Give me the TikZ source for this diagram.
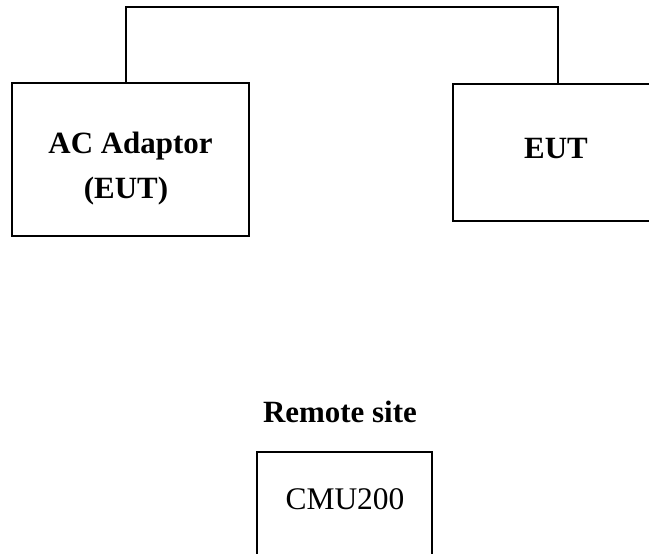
\documentclass[tikz,border=0pt]{standalone}
\usepackage{fontspec}
\setmainfont{Liberation Serif}
\begin{document}
\begin{tikzpicture}[x=0.75pt,y=-0.75pt,
  box/.style={draw=black,line width=1.1pt,rectangle,inner sep=0pt},
  lbl/.style={font=\fontsize{23.2pt}{27pt}\selectfont\bfseries,anchor=base,inner sep=0pt},
  plain/.style={font=\fontsize{23.6pt}{27pt}\selectfont,anchor=base,inner sep=0pt},
  wire/.style={draw=black,line width=1.1pt}]
\path[use as bounding box,clip] (0,0) rectangle (649,553);
\node[box,minimum width=237*0.75pt,minimum height=153*0.75pt] (ac) at (130.5,159.5) {};
\node[box,minimum width=210*0.75pt,minimum height=137*0.75pt] (eut) at (558,152.5) {};
\node[box,minimum width=175*0.75pt,minimum height=160*0.75pt] (cmu) at (344.5,532) {};
\node[lbl] (t1) at (130.5,153) {AC Adaptor};
\node[lbl] (t2) at (126,198) {(EUT)};
\node[lbl] (t3) at (556,158) {EUT};
\node[lbl] (rs) at (340,422) {Remote site};
\node[plain] (t4) at (345,509) {CMU200};
\coordinate (k1) at (126,7);
\draw[wire] (k1 |- ac.north) -- (k1) -| (eut.north);
\end{tikzpicture}
\end{document}
